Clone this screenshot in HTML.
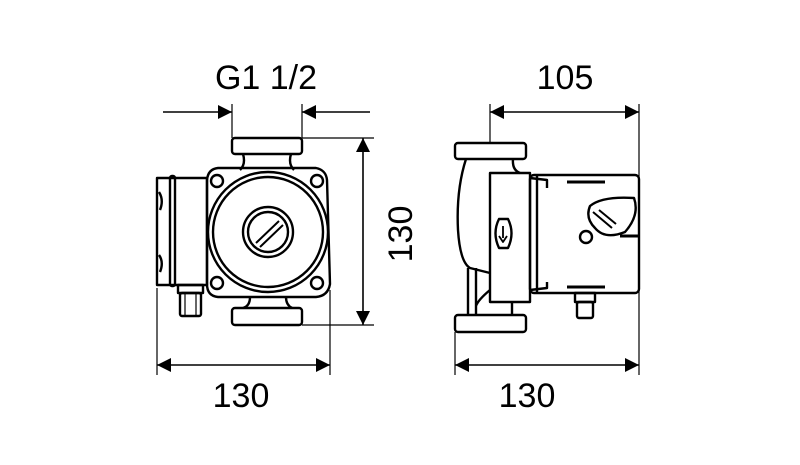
<!DOCTYPE html>
<html><head><style>html,body{margin:0;background:#fff}svg{display:block}</style></head><body>
<svg width="800" height="465" viewBox="0 0 800 465" xmlns="http://www.w3.org/2000/svg">
<defs>
<marker id="b" viewBox="0 0 10 10" refX="10" refY="5" markerWidth="26" markerHeight="14" orient="auto-start-reverse" markerUnits="userSpaceOnUse"><path d="M0,0L10,5L0,10z" fill="#000"/></marker>
</defs>
<g fill="none" stroke="#000" stroke-width="2.4" stroke-linejoin="round">
<!-- LEFT VIEW -->
<line x1="232" y1="104" x2="232" y2="138" stroke-width="1.2"/>
<line x1="302" y1="104" x2="302" y2="138" stroke-width="1.2"/>
<line x1="163" y1="112" x2="232" y2="112" stroke-width="1.6" marker-end="url(#b)"/>
<line x1="370" y1="112" x2="302" y2="112" stroke-width="1.6" marker-end="url(#b)"/>
<rect x="232" y="138" width="70" height="16" rx="3"/>
<path d="M243,154 Q246,164 240,170 M291,154 Q288,164 294,170"/>
<path d="M218,168 L316,168 Q326,170 327,180 L330,284 Q328,296 316,297 L218,297 Q207,296 207,284 L207,180 Q208,169 218,168z"/>
<circle cx="268" cy="232" r="60"/>
<circle cx="268" cy="232" r="55"/>
<circle cx="268" cy="232" r="25"/>
<circle cx="268" cy="232" r="20"/>
<path d="M256,243 L279,221 M260,247 L283,225" stroke-width="2"/>
<circle cx="217" cy="181" r="6"/><circle cx="317" cy="181" r="6"/>
<circle cx="217" cy="283" r="6"/><circle cx="317" cy="283" r="6"/>
<path d="M250,297 Q250,306 243,308 M286,297 Q286,305 292,308"/>
<rect x="232" y="308" width="70" height="17" rx="3"/>
<rect x="157" y="178" width="50" height="107"/>
<rect x="170" y="176" width="5" height="110" rx="2"/>
<path d="M159,192 Q164,200 160,210 M159,255 Q164,262 160,272"/>
<rect x="178" y="285" width="25" height="8"/>
<rect x="180" y="293" width="21" height="23" rx="2"/>
<line x1="185" y1="293" x2="185" y2="316" stroke-width="1.2"/>
<line x1="196" y1="293" x2="196" y2="316" stroke-width="1.2"/>
<line x1="302" y1="138" x2="374" y2="138" stroke-width="1.2"/>
<line x1="302" y1="325" x2="374" y2="325" stroke-width="1.2"/>
<line x1="363" y1="138" x2="363" y2="325" stroke-width="1.6" marker-start="url(#b)" marker-end="url(#b)"/>
<line x1="157" y1="288" x2="157" y2="375" stroke-width="1.2"/>
<line x1="330" y1="290" x2="330" y2="375" stroke-width="1.2"/>
<line x1="157" y1="365" x2="330" y2="365" stroke-width="1.6" marker-start="url(#b)" marker-end="url(#b)"/>
<!-- RIGHT VIEW -->
<line x1="490" y1="104" x2="490" y2="143" stroke-width="1.2"/>
<line x1="639" y1="104" x2="639" y2="375" stroke-width="1.2"/>
<line x1="490" y1="112" x2="639" y2="112" stroke-width="1.6" marker-start="url(#b)" marker-end="url(#b)"/>
<rect x="455" y="143" width="71" height="16" rx="3"/>
<path d="M466,159 Q456,190 458,230 Q460,262 470,268 L490,273 M513,159 Q512,170 520,173"/>
<path d="M468,268 L468,315 M476,268 L476,315 M490,290 Q478,300 476,306 M512,302 L512,315"/>
<rect x="490" y="173" width="40" height="129"/>
<path d="M499,219 Q492,233 499,248 L508,248 Q515,233 508,219z"/>
<path d="M503,226 L503,238 M499,236 L503,242 L507,236" stroke-width="1.8"/>
<rect x="530" y="175" width="109" height="118" rx="4"/>
<line x1="537" y1="175" x2="537" y2="293"/>
<path d="M530,178 L547,180 L547,188 M530,290 L547,288 L547,282"/>
<line x1="567" y1="182" x2="605" y2="182" stroke-width="3"/>
<line x1="567" y1="287" x2="605" y2="287" stroke-width="3"/>
<path d="M590,206 Q602,196 634,198 Q640,215 625,232 Q605,240 595,228 Q585,218 590,206z"/>
<path d="M593,212 L612,228 M599,210 L616,224" stroke-width="2"/>
<circle cx="586" cy="237" r="6"/>
<line x1="620" y1="236" x2="639" y2="236" stroke-width="3"/>
<rect x="575" y="293" width="20" height="9"/>
<rect x="577" y="302" width="16" height="16" rx="2"/>
<rect x="455" y="315" width="71" height="17" rx="3"/>
<line x1="455" y1="332" x2="455" y2="375" stroke-width="1.2"/>
<line x1="455" y1="365" x2="639" y2="365" stroke-width="1.6" marker-start="url(#b)" marker-end="url(#b)"/>
</g>
<g font-family="Liberation Sans, sans-serif" font-size="34" fill="#000" text-anchor="middle">
<text x="266" y="89">G1 1/2</text>
<text x="565" y="89">105</text>
<text x="241" y="407">130</text>
<text x="527" y="407">130</text>
<text transform="translate(412,234) rotate(-90)">130</text>
</g>
</svg>
</body></html>
